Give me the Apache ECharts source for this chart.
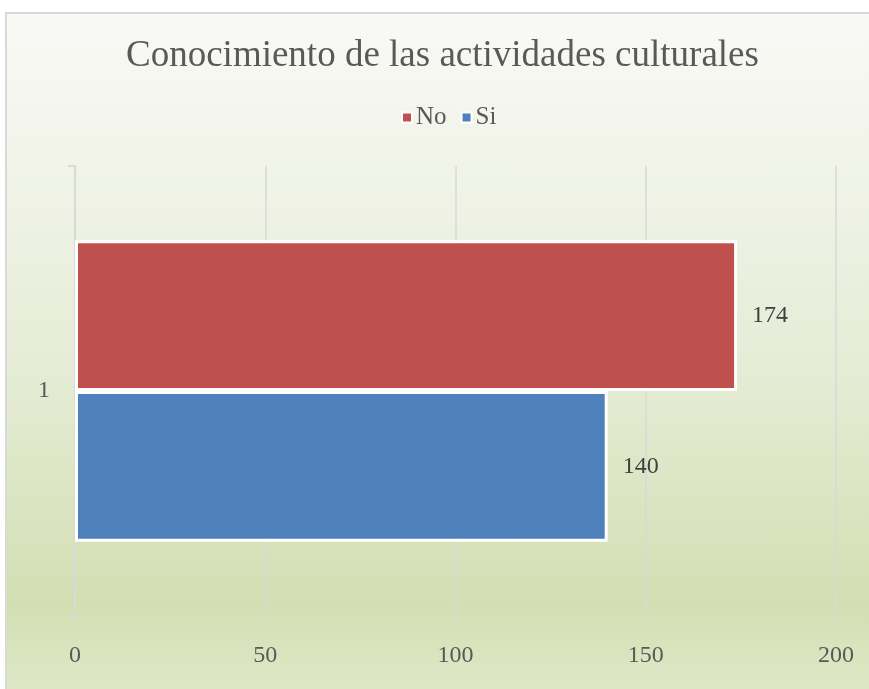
<!DOCTYPE html>
<html>
<head>
<meta charset="utf-8">
<script src="https://cdn.jsdelivr.net/npm/echarts@6/dist/echarts.min.js"></script>
<style>
  html, body { margin: 0; padding: 0; background: #ffffff; overflow: hidden; }
  #bg { position: absolute; left: 5px; top: 12px; width: 880px; height: 690px;
        border: 2px solid #d9d9d9; box-sizing: border-box;
        background: linear-gradient(to bottom, #f9f9f6 0%, #f0f3e7 25%, #e4ebd3 55%, #d3deb2 86%, #dde6c3 96%, #dfe7c6 100%); }
  #chart { position: absolute; left: 0; top: 0; width: 869px; height: 689px; }
</style>
</head>
<body>
<div id="bg"></div>
<div id="chart"></div>
<script>
const titleText = 'Conocimiento de las actividades culturales';
const categories = ['1'];
const seriesNames = ['No', 'Si'];
const noValues = [174];
const siValues = [140];
const xTicks = [0, 50, 100, 150, 200];

const FONT = 'Liberation Serif';
const chart = echarts.init(document.getElementById('chart'), null, { renderer: 'canvas' });
const barBorder = { borderColor: '#ffffff', borderWidth: 3 };
chart.setOption({
  backgroundColor: 'transparent',
  animation: false,
  title: {
    text: titleText,
    left: 126,
    top: 38,
    padding: 0,
    textStyle: { fontFamily: FONT, fontSize: 37, fontWeight: 'normal', color: '#595959' }
  },
  legend: {
    data: seriesNames,
    left: 401,
    top: 105,
    padding: 0,
    icon: 'rect',
    itemWidth: 10,
    itemHeight: 10,
    itemGap: 14,
    itemStyle: { borderColor: '#ffffff', borderWidth: 2 },
    textStyle: { fontFamily: FONT, fontSize: 25, color: '#595959', padding: [0, 0, 0, -1] }
  },
  grid: { left: 75, right: 33, top: 166, bottom: 73, containLabel: false },
  xAxis: {
    type: 'value',
    min: xTicks[0],
    max: xTicks[xTicks.length - 1],
    interval: xTicks[1] - xTicks[0],
    axisLine: { show: false },
    axisTick: { show: false },
    splitLine: { show: true, lineStyle: { color: '#d9d9d9', width: 1.5 } },
    axisLabel: { fontFamily: FONT, fontSize: 24, color: '#595959', margin: 28 }
  },
  yAxis: {
    type: 'category',
    data: categories,
    axisLine: { show: true, lineStyle: { color: '#d9d9d9', width: 2 } },
    axisTick: { show: true, length: 7, lineStyle: { color: '#d9d9d9', width: 2 } },
    axisLabel: { fontFamily: FONT, fontSize: 24, color: '#595959', margin: 25 }
  },
  series: [
    {
      name: seriesNames[0],
      type: 'bar',
      data: noValues,
      barGap: '0%',
      barCategoryGap: '33%',
      itemStyle: Object.assign({ color: '#c0504d' }, barBorder),
      label: { show: true, position: 'right', distance: 15, fontFamily: FONT, fontSize: 24, color: '#404040' }
    },
    {
      name: seriesNames[1],
      type: 'bar',
      data: siValues,
      barGap: '0%',
      barCategoryGap: '33%',
      itemStyle: Object.assign({ color: '#4f81bd' }, barBorder),
      label: { show: true, position: 'right', distance: 15, fontFamily: FONT, fontSize: 24, color: '#404040' }
    }
  ]
});
</script>
</body>
</html>
